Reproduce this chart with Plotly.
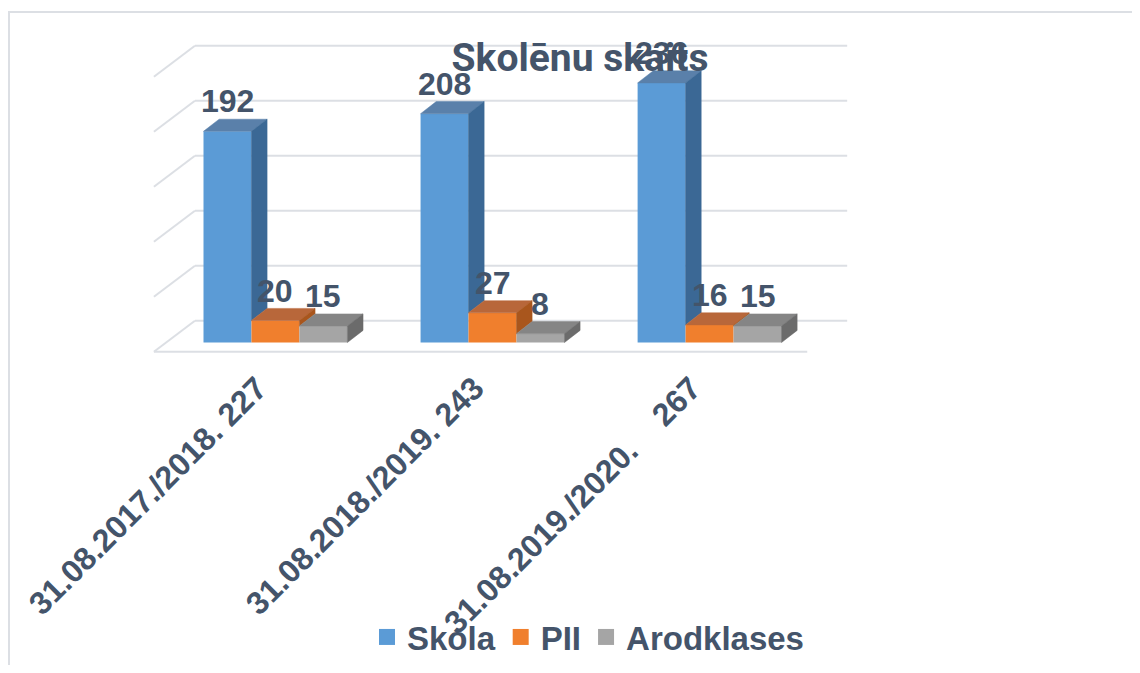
import plotly.graph_objects as go

# ---------------- data ----------------
categories = ["31.08.2017./2018. 227", "31.08.2018./2019. 243",
              "31.08.2019./2020.\u00a0\u00a0\u00a0 267"]
series_names = ["Skola", "PII", "Arodklases"]
skola = [192, 208, 236]
pii = [20, 27, 16]
arod = [15, 8, 15]
grid_values = [0, 50, 100, 150, 200, 250]
title_text = "Skolēnu skaits"

# ---------------- style ----------------
TXT = "#44546a"
front_cols = ["#5b9bd6", "#f07f2d", "#a5a5a5"]
top_cols = ["#5a80aa", "#b8673a", "#858585"]
side_cols = ["#3b6895", "#a9561d", "#6b6b6b"]
GRID = "#dcdfe4"

BAR_W = 0.221          # bar width (x units)
DX, DY = 0.072, 11     # depth of bars
WALL_DY = 19.8         # back wall offset vs front
WALL_X0, WALL_X1 = -0.371, 2.634
SIDE_DX, SIDE_DY = -0.189, -28.2
FLOOR_X1 = 2.45
offsets = [-BAR_W, 0.0, BAR_W]

all_series = [skola, pii, arod]
fig = go.Figure()

# front faces (bars)
for k, vals in enumerate(all_series):
    fig.add_trace(go.Bar(
        x=[i + offsets[k] for i in range(len(categories))], y=vals,
        width=BAR_W, marker=dict(color=front_cols[k], line=dict(width=0)),
        showlegend=False, hoverinfo="skip"))

# 3D top and side faces
for k, vals in enumerate(all_series):
    tx, ty, sx, sy = [], [], [], []
    for i, v in enumerate(vals):
        xl = i + offsets[k] - BAR_W / 2
        xr = xl + BAR_W
        tx += [xl, xr, xr + DX, xl + DX, xl, None]
        ty += [v, v, v + DY, v + DY, v, None]
        base = all_series[k + 1][i] if k < len(all_series) - 1 else 0
        lo = min(max(base, 0), v)
        sx += [xr, xr, xr + DX, xr + DX, xr, None]
        sy += [lo, v, v + DY, lo + DY, lo, None]
    fig.add_trace(go.Scatter(x=tx, y=ty, mode="lines", fill="toself",
                             fillcolor=top_cols[k], line=dict(width=0.5, color=top_cols[k]),
                             showlegend=False, hoverinfo="skip"))
    fig.add_trace(go.Scatter(x=sx, y=sy, mode="lines", fill="toself",
                             fillcolor=side_cols[k], line=dict(width=0.5, color=side_cols[k]),
                             showlegend=False, hoverinfo="skip"))

# legend entries
for k, name in enumerate(series_names):
    fig.add_trace(go.Scatter(x=[None], y=[None], mode="markers", name=name,
                             marker=dict(symbol="square", size=16, color=front_cols[k])))

# back wall gridlines + side wall diagonals + floor
shapes = []
for g in grid_values:
    shapes.append(dict(type="line", xref="x", yref="y", layer="below",
                       x0=WALL_X0, x1=WALL_X1, y0=g + WALL_DY, y1=g + WALL_DY,
                       line=dict(color=GRID, width=2)))
    shapes.append(dict(type="line", xref="x", yref="y", layer="below",
                       x0=WALL_X0 + SIDE_DX, x1=WALL_X0, y0=g + WALL_DY + SIDE_DY,
                       y1=g + WALL_DY, line=dict(color=GRID, width=2)))
shapes.append(dict(type="line", xref="x", yref="y", layer="below",
                   x0=WALL_X0 + SIDE_DX, x1=FLOOR_X1,
                   y0=WALL_DY + SIDE_DY, y1=WALL_DY + SIDE_DY,
                   line=dict(color=GRID, width=2)))
# outer frame
shapes.append(dict(type="rect", xref="paper", yref="paper", layer="below",
                   x0=-0.2014, x1=1.45, y0=-1.1, y1=1.0889,
                   line=dict(color=GRID, width=2)))

# data labels
annotations = []
for k, vals in enumerate(all_series):
    for i, v in enumerate(vals):
        annotations.append(dict(x=i + offsets[k], y=v, text=str(v), showarrow=False,
                                xanchor="center", yanchor="middle", yshift=30,
                                font=dict(family="Arial, Liberation Sans", size=32,
                                          color=TXT, weight="bold")))

W, H = 1124, 657   # page body has an 8px margin
fig.update_layout(
    width=W, height=H,
    margin=dict(l=142, r=W - 842, t=32, b=H - 347, autoexpand=False),
    paper_bgcolor="white", plot_bgcolor="white",
    barmode="overlay",
    shapes=shapes, annotations=annotations,
    title=dict(text=title_text, xref="container", yref="container",
               x=572 / W, y=1 - 49 / H, xanchor="center", yanchor="middle",
               font=dict(family="Roboto", size=39, color=TXT, weight="bold")),
    xaxis=dict(range=[-0.578, 2.647], tickvals=list(range(len(categories))),
               ticktext=categories, tickangle=-45, showgrid=False, zeroline=False,
               showline=False, ticks="", ticklabelshift=-18, ticklabelstandoff=7,
               automargin=False,
               tickfont=dict(family="Arial, Liberation Sans", size=32, color=TXT,
                             weight="bold")),
    yaxis=dict(range=[-11.36, 275], visible=False, showgrid=False, zeroline=False,
               automargin=False),
    legend=dict(orientation="h", xref="container", yref="container",
                x=580 / W, y=1 - 629 / H, xanchor="center",
                yanchor="middle", bgcolor="rgba(0,0,0,0)",
                font=dict(family="Arial, Liberation Sans", size=33, color=TXT,
                          weight="bold")),
    showlegend=True,
)

fig.write_html("out.html")
